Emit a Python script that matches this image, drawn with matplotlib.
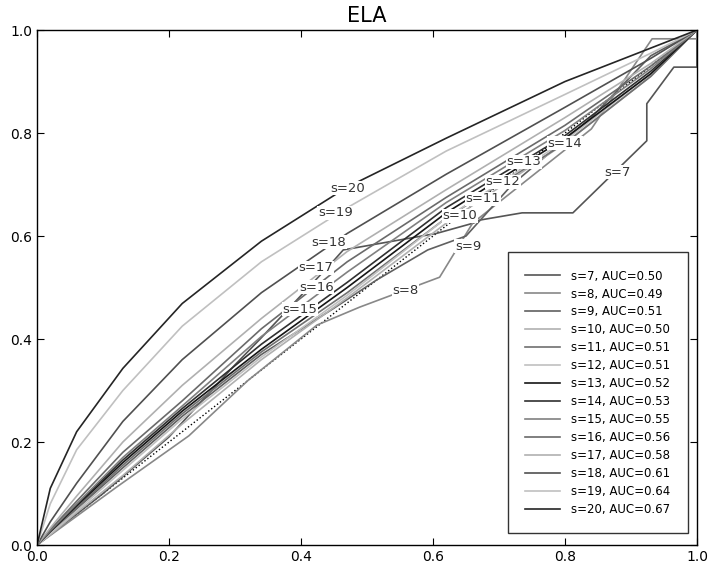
import numpy as np
import matplotlib
matplotlib.use("Agg")
import matplotlib.pyplot as plt

# ROC curves
sizes = [7, 8, 9, 10, 11, 12, 13, 14, 15, 16, 17, 18, 19, 20]
aucs = [0.50, 0.49, 0.51, 0.50, 0.51, 0.51, 0.52, 0.53, 0.55, 0.56, 0.58, 0.61, 0.64, 0.67]

fpr_grid = [0, 0.02, 0.06, 0.13, 0.22, 0.34, 0.47, 0.62, 0.8, 0.93, 1]

fpr_s7 = [0, 0.1, 0.2, 0.3, 0.338, 0.448, 0.464, 0.605, 0.661, 0.671, 0.735, 0.812, 0.924, 0.924, 0.965, 1, 1]
tpr_s7 = [0, 0.1, 0.21, 0.35, 0.40, 0.55, 0.573, 0.605, 0.625, 0.631, 0.645, 0.645, 0.785, 0.857, 0.928, 0.928, 1]

fpr_s8 = [0, 0.12, 0.23, 0.32, 0.424, 0.489, 0.61, 0.66, 0.84, 0.932, 1, 1]
tpr_s8 = [0, 0.112, 0.212, 0.32, 0.427, 0.462, 0.52, 0.625, 0.808, 0.983, 0.983, 1]

fpr_s9 = [0, 0.06, 0.13, 0.22, 0.34, 0.45, 0.515, 0.592, 0.65, 0.72, 0.84, 0.93, 1]
tpr_s9 = [0, 0.07, 0.15, 0.25, 0.37, 0.46, 0.515, 0.573, 0.60, 0.70, 0.83, 0.95, 1]

tpr_s10 = [0, 0.02, 0.063, 0.135, 0.235, 0.36, 0.48, 0.625, 0.78, 0.91, 1]
tpr_s11 = [0, 0.024, 0.072, 0.155, 0.255, 0.375, 0.49, 0.635, 0.78, 0.91, 1]
tpr_s12 = [0, 0.022, 0.066, 0.145, 0.245, 0.365, 0.485, 0.635, 0.785, 0.915, 1]
tpr_s13 = [0, 0.026, 0.076, 0.16, 0.26, 0.38, 0.50, 0.645, 0.79, 0.915, 1]
tpr_s14 = [0, 0.027, 0.078, 0.165, 0.265, 0.39, 0.51, 0.655, 0.795, 0.92, 1]
tpr_s15 = [0, 0.028, 0.08, 0.17, 0.27, 0.405, 0.53, 0.665, 0.805, 0.925, 1]
tpr_s16 = [0, 0.03, 0.085, 0.18, 0.28, 0.42, 0.55, 0.675, 0.815, 0.93, 1]
tpr_s17 = [0, 0.033, 0.095, 0.20, 0.31, 0.44, 0.57, 0.69, 0.83, 0.935, 1]
tpr_s18 = [0, 0.045, 0.12, 0.24, 0.36, 0.49, 0.605, 0.72, 0.85, 0.945, 1]
tpr_s19 = [0, 0.08, 0.185, 0.30, 0.425, 0.55, 0.655, 0.765, 0.875, 0.955, 1]
tpr_s20 = [0, 0.11, 0.22, 0.343, 0.469, 0.59, 0.695, 0.79, 0.90, 0.965, 1]

curves = [
    (fpr_s7, tpr_s7), (fpr_s8, tpr_s8), (fpr_s9, tpr_s9),
    (fpr_grid, tpr_s10), (fpr_grid, tpr_s11), (fpr_grid, tpr_s12),
    (fpr_grid, tpr_s13), (fpr_grid, tpr_s14), (fpr_grid, tpr_s15),
    (fpr_grid, tpr_s16), (fpr_grid, tpr_s17), (fpr_grid, tpr_s18),
    (fpr_grid, tpr_s19), (fpr_grid, tpr_s20),
]

colors = ["#555555", "#888888", "#606060", "#b0b0b0", "#707070", "#c0c0c0", "#151515",
          "#303030", "#808080", "#6a6a6a", "#b0b0b0", "#505050", "#c0c0c0", "#252525"]

# where the inline "s=.." labels sit (data coords)
label_xy = [(0.879, 0.724), (0.558, 0.495), (0.653, 0.58), (0.641, 0.639),
            (0.676, 0.672), (0.706, 0.705), (0.738, 0.744), (0.80, 0.78),
            (0.398, 0.458), (0.423, 0.501), (0.423, 0.538), (0.442, 0.588),
            (0.452, 0.645), (0.47, 0.693)]

fig = plt.figure(figsize=(7.13, 5.67), dpi=100)
ax = fig.add_axes([0.052, 0.0388, 0.9255, 0.9082])

ax.plot([0, 1], [0, 1], color="black", linestyle=":", linewidth=1.0)

for s, auc, (fx, ty), c in zip(sizes, aucs, curves, colors):
    ax.plot(fx, ty, color=c, linewidth=1.2, label="s=%d, AUC=%.2f" % (s, auc))

for s, (lx, ly) in zip(sizes, label_xy):
    ax.text(lx, ly, "s=%d" % s, fontsize=9.5, color="#333333", ha="center", va="center",
            bbox=dict(facecolor="white", edgecolor="none", pad=0.5), zorder=5)

ax.set_xlim(0, 1)
ax.set_ylim(0, 1)
ax.set_xticks(np.arange(0, 1.01, 0.2))
ax.set_yticks(np.arange(0, 1.01, 0.2))
ax.tick_params(direction="in", top=True, right=True, length=5, labelsize=10, colors="black")
for sp in ax.spines.values():
    sp.set_linewidth(1.0)
ax.set_title("ELA", fontsize=15)

leg = ax.legend(loc="lower left", bbox_to_anchor=(0.714, 0.023), fontsize=8.5,
                frameon=True, fancybox=False, borderpad=1.45, handlelength=2.9,
                handletextpad=1.0, labelspacing=0.42, borderaxespad=0)
leg.get_frame().set_edgecolor("black")
leg.get_frame().set_linewidth(1.0)

fig.savefig("out.png", dpi=100)
